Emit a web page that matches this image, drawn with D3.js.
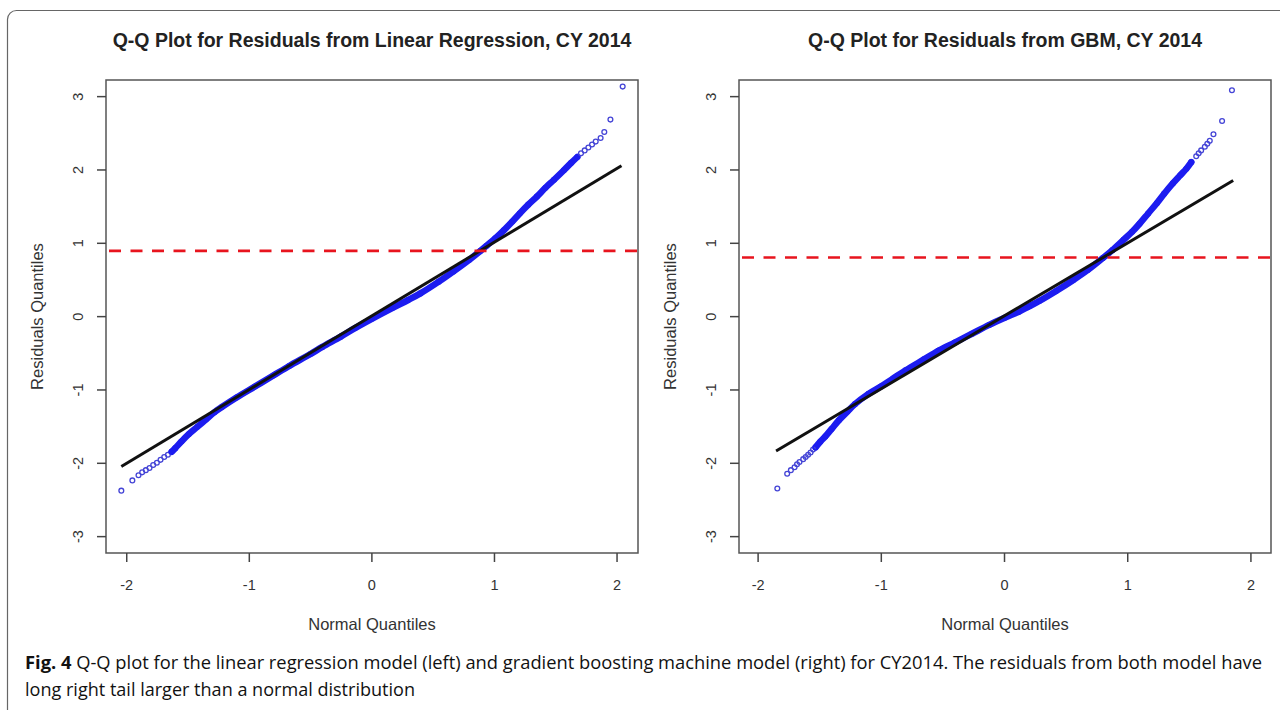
<!DOCTYPE html>
<html>
<head>
<meta charset="utf-8">
<script src="https://cdn.jsdelivr.net/npm/d3@7"></script>
<style>
    html, body { margin: 0; padding: 0; background: #fff; }
    svg { display: block; }
</style>
</head>
<body>
<div id="chart"></div>
<script>
const PANEL_TITLES = [
    "Q-Q Plot for Residuals from Linear Regression, CY 2014",
    "Q-Q Plot for Residuals from GBM, CY 2014"
];
const X_TICKS = [-2, -1, 0, 1, 2];
const Y_TICKS = [-3, -2, -1, 0, 1, 2, 3];
const X_LABEL = "Normal Quantiles";
const Y_LABEL = "Residuals Quantiles";

// linear regression residuals: [normal quantile, residual quantile]
const lmLowTail = [[-2.04, -2.38], [-1.95, -2.24], [-1.90, -2.17], [-1.87, -2.13], [-1.84, -2.10],
    [-1.81, -2.07], [-1.78, -2.03], [-1.75, -2.00], [-1.72, -1.96], [-1.69, -1.92], [-1.66, -1.89]];
const lmBand = [[-1.63, -1.85], [-1.60, -1.80], [-1.55, -1.71], [-1.49, -1.61], [-1.42, -1.51],
    [-1.35, -1.41], [-1.28, -1.31], [-1.22, -1.24], [-1.10, -1.11], [-0.95, -0.96], [-0.80, -0.81],
    [-0.67, -0.68], [-0.50, -0.52], [-0.40, -0.42], [-0.25, -0.28], [-0.13, -0.16], [0.00, -0.04],
    [0.17, 0.11], [0.30, 0.22], [0.40, 0.31], [0.55, 0.47], [0.67, 0.61], [0.80, 0.77], [0.89, 0.89],
    [0.94, 0.96], [1.01, 1.06], [1.08, 1.17], [1.15, 1.29], [1.21, 1.40], [1.28, 1.52], [1.35, 1.63],
    [1.42, 1.75], [1.49, 1.86], [1.57, 1.99], [1.63, 2.09], [1.68, 2.17]];
const lmHighTail = [[1.71, 2.22], [1.74, 2.26], [1.77, 2.30], [1.80, 2.34], [1.83, 2.38],
    [1.87, 2.43], [1.90, 2.51], [1.95, 2.68], [2.05, 3.13]];
const lmQQLine = [[-2.04, -2.05], [2.04, 2.05]];
const lmCutoff = 0.89;

// GBM residuals
const gbmLowTail = [[-1.84, -2.35], [-1.76, -2.15], [-1.73, -2.10], [-1.70, -2.06], [-1.68, -2.02],
    [-1.66, -1.99], [-1.63, -1.95], [-1.61, -1.92], [-1.59, -1.89], [-1.57, -1.86], [-1.55, -1.82]];
const gbmBand = [[-1.53, -1.79], [-1.49, -1.71], [-1.45, -1.64], [-1.40, -1.54], [-1.34, -1.42],
    [-1.27, -1.30], [-1.21, -1.20], [-1.10, -1.06], [-1.00, -0.96], [-0.90, -0.85], [-0.80, -0.74],
    [-0.65, -0.59], [-0.53, -0.47], [-0.40, -0.36], [-0.26, -0.24], [-0.12, -0.12], [0.01, -0.02],
    [0.12, 0.06], [0.20, 0.13], [0.29, 0.21], [0.42, 0.34], [0.56, 0.49], [0.68, 0.63], [0.80, 0.79],
    [0.88, 0.90], [0.97, 1.04], [1.04, 1.15], [1.10, 1.26], [1.17, 1.40], [1.24, 1.54], [1.30, 1.67],
    [1.37, 1.81], [1.43, 1.92], [1.48, 2.01], [1.52, 2.10]];
const gbmHighTail = [[1.56, 2.18], [1.58, 2.22], [1.60, 2.26], [1.63, 2.31], [1.65, 2.35],
    [1.67, 2.39], [1.70, 2.48], [1.77, 2.66], [1.85, 3.08]];
const gbmQQLine = [[-1.85, -1.84], [1.86, 1.85]];
const gbmCutoff = 0.80;

const CAPTION_BOLD = "Fig. 4";
const CAPTION_LINES = [
    "Q-Q plot for the linear regression model (left) and gradient boosting machine model (right) for CY2014. The residuals from both model have",
    "long right tail larger than a normal distribution"
];

const W = 1280;
const H = 710;
const PLOT_TOP = 80;
const PLOT_BOTTOM = 553;
const Y_DOMAIN = [-3.23, 3.22];
const FONT = "'Liberation Sans', Arial, sans-serif";
const BLUE = "#1c1cf0";
const DOT = "#4444d6";

const panels = [
    { title: PANEL_TITLES[0], left: 106, right: 638, xDomain: [-2.165, 2.175],
      low: lmLowTail, band: lmBand, high: lmHighTail, qq: lmQQLine, cutoff: lmCutoff },
    { title: PANEL_TITLES[1], left: 739, right: 1271, xDomain: [-2.151, 2.167],
      low: gbmLowTail, band: gbmBand, high: gbmHighTail, qq: gbmQQLine, cutoff: gbmCutoff }
];

const svg = d3.select("#chart")
    .append("svg")
    .attr("width", W)
    .attr("height", H);

// outer figure frame (runs off the right and bottom edges)
svg.append("rect")
    .attr("x", 7.5)
    .attr("y", 10.5)
    .attr("width", W + 20)
    .attr("height", H + 20)
    .attr("rx", 9)
    .attr("fill", "none")
    .attr("stroke", "#666")
    .attr("stroke-width", 1.2);

panels.forEach((p, i) => drawPanel(p, i));

function drawPanel(p, i) {
    const x = d3.scaleLinear().domain(p.xDomain).range([p.left, p.right]);
    const y = d3.scaleLinear().domain(Y_DOMAIN).range([PLOT_BOTTOM, PLOT_TOP]);
    const cx = (p.left + p.right) / 2;
    const cy = (PLOT_TOP + PLOT_BOTTOM) / 2;

    const g = svg.append("g");

    g.append("clipPath")
        .attr("id", "clip" + i)
        .append("rect")
        .attr("x", p.left)
        .attr("y", PLOT_TOP)
        .attr("width", p.right - p.left)
        .attr("height", PLOT_BOTTOM - PLOT_TOP);

    g.append("text")
        .text(p.title)
        .attr("x", cx)
        .attr("y", 47)
        .attr("text-anchor", "middle")
        .attr("font-family", FONT)
        .attr("font-weight", "bold")
        .attr("font-size", 19.5)
        .attr("fill", "#222");

    const plot = g.append("g").attr("clip-path", "url(#clip" + i + ")");

    const line = d3.line()
        .x(d => x(d[0]))
        .y(d => y(d[1]));

    // dense middle of the sample: overlapping circles read as a thick band
    plot.append("path")
        .datum(p.band)
        .attr("d", line.curve(d3.curveCatmullRom))
        .attr("fill", "none")
        .attr("stroke", BLUE)
        .attr("stroke-width", 6.5)
        .attr("stroke-linecap", "round")
        .attr("stroke-linejoin", "round");

    const nLow = p.low.length;
    const nBand = p.band.length;
    plot.selectAll("circle")
        .data(p.low.concat(p.band, p.high))
        .join("circle")
        .attr("cx", d => x(d[0]))
        .attr("cy", d => y(d[1]))
        .attr("r", 2.4)
        .attr("fill", "none")
        .attr("stroke", (d, k) => (k < nLow || k >= nLow + nBand) ? DOT : BLUE)
        .attr("stroke-width", 1.3);

    plot.append("path")
        .datum(p.qq)
        .attr("d", d3.line().x(d => x(d[0])).y(d => y(d[1])))
        .attr("fill", "none")
        .attr("stroke", "#111")
        .attr("stroke-width", 3);

    plot.append("line")
        .attr("x1", x(p.xDomain[0]) + 3)
        .attr("x2", x(p.xDomain[1]))
        .attr("y1", y(p.cutoff))
        .attr("y2", y(p.cutoff))
        .attr("stroke", "#e8141e")
        .attr("stroke-width", 2.6)
        .attr("stroke-dasharray", "12,9.5");

    g.append("rect")
        .attr("x", p.left)
        .attr("y", PLOT_TOP)
        .attr("width", p.right - p.left)
        .attr("height", PLOT_BOTTOM - PLOT_TOP)
        .attr("fill", "none")
        .attr("stroke", "#555")
        .attr("stroke-width", 1.5);

    const xAxis = d3.axisBottom(x)
        .tickValues(X_TICKS)
        .tickSize(9)
        .tickSizeOuter(0)
        .tickFormat(d => String(d));

    const gx = g.append("g")
        .attr("transform", "translate(0," + PLOT_BOTTOM + ")")
        .attr("color", "#444")
        .call(xAxis);
    gx.select(".domain").remove();
    gx.selectAll(".tick line").attr("stroke-width", 1.5);
    gx.selectAll("text")
        .attr("y", 37)
        .attr("dy", null)
        .attr("font-family", FONT)
        .attr("font-size", 14.5)
        .attr("fill", "#333");

    const yAxis = d3.axisLeft(y)
        .tickValues(Y_TICKS)
        .tickSize(9)
        .tickSizeOuter(0)
        .tickFormat(d => String(d));

    const gy = g.append("g")
        .attr("transform", "translate(" + p.left + ",0)")
        .attr("color", "#444")
        .call(yAxis);
    gy.select(".domain").remove();
    gy.selectAll(".tick line").attr("stroke-width", 1.5);
    gy.selectAll("text")
        .attr("x", 0)
        .attr("y", -23)
        .attr("dy", null)
        .attr("transform", "rotate(-90)")
        .attr("text-anchor", "middle")
        .attr("font-family", FONT)
        .attr("font-size", 14.5)
        .attr("fill", "#333");

    g.append("text")
        .text(X_LABEL)
        .attr("x", cx)
        .attr("y", 630)
        .attr("text-anchor", "middle")
        .attr("font-family", FONT)
        .attr("font-size", 16.5)
        .attr("fill", "#333");

    g.append("text")
        .text(Y_LABEL)
        .attr("transform", "translate(" + (p.left - 63) + "," + cy + ") rotate(-90)")
        .attr("text-anchor", "middle")
        .attr("font-family", FONT)
        .attr("font-size", 16.5)
        .attr("fill", "#333");
}

// caption
const CAPTION_FONT = "'Open Sans', Roboto, sans-serif";
const cap1 = svg.append("text")
    .attr("x", 25)
    .attr("y", 669)
    .attr("font-family", CAPTION_FONT)
    .attr("font-size", 17.5)
    .attr("fill", "#111");
cap1.append("tspan").attr("font-weight", "bold").text(CAPTION_BOLD);
cap1.append("tspan").text(" " + CAPTION_LINES[0]);

const cap2 = svg.append("text")
    .attr("x", 25)
    .attr("y", 696)
    .attr("font-family", CAPTION_FONT)
    .attr("font-size", 17.5)
    .attr("fill", "#111")
    .text(CAPTION_LINES[1]);

// fit to the condensed width of the printed caption
[[cap1, 1237], [cap2, 390]].forEach(([t, w]) => {
    t.attr("textLength", w).attr("lengthAdjust", "spacingAndGlyphs");
});
</script>
</body>
</html>
